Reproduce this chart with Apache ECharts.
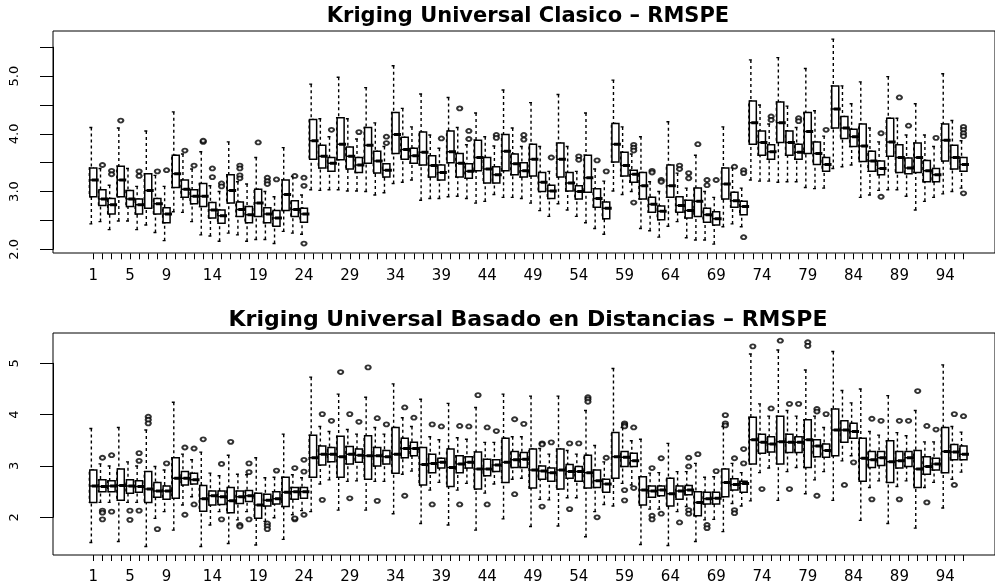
<!DOCTYPE html>
<html>
<head>
<meta charset="utf-8">
<script src="https://cdn.jsdelivr.net/npm/echarts@6/dist/echarts.min.js"></script>
<style>html,body{margin:0;padding:0;background:#fff}#c{width:995px;height:587px}</style>
</head>
<body>
<div id="c"></div>
<script>
// ---------- data ----------
const categories = ['1','2','3','4','5','6','7','8','9','10','11','12','13','14','15','16','17','18','19','20','21','22','23','24','25','26','27','28','29','30','31','32','33','34','35','36','37','38','39','40','41','42','43','44','45','46','47','48','49','50','51','52','53','54','55','56','57','58','59','60','61','62','63','64','65','66','67','68','69','70','71','72','73','74','75','76','77','78','79','80','81','82','83','84','85','86','87','88','89','90','91','92','93','94','95','96'];
const xTickLabels = ['1','5','9','14','19','24','29','34','39','44','49','54','59','64','69','74','79','84','89','94'];
const topTitle = 'Kriging Universal Clasico \u2013 RMSPE';
const bottomTitle = 'Kriging Universal Basado en Distancias \u2013 RMSPE';

// Panel 1: Kriging Universal Clasico
const topLow  = [2.44,2.48,2.34,2.49,2.49,2.34,2.42,2.29,2.15,2.65,2.64,2.48,2.25,2.23,2.14,2.28,2.25,2.14,2.17,2.17,2.10,2.31,2.28,2.26,3.03,3.02,3.03,3.03,3.01,3.01,3.00,2.94,2.98,3.14,3.16,3.20,2.85,2.88,2.88,2.91,2.92,2.88,2.80,2.83,2.95,2.90,2.90,2.88,2.80,2.67,2.57,2.79,2.68,2.57,2.46,2.36,2.26,3.01,2.95,3.00,2.36,2.32,2.21,2.40,2.48,2.20,2.16,2.16,2.09,2.39,2.44,2.39,3.20,3.18,3.18,3.16,3.17,3.17,3.07,3.05,3.06,3.40,3.43,3.46,2.90,2.94,3.02,3.03,3.03,2.92,2.68,2.83,2.90,2.96,3.00,3.06];
const topQ1   = [2.91,2.76,2.61,2.91,2.74,2.61,2.71,2.61,2.46,3.07,2.90,2.79,2.74,2.54,2.45,2.80,2.57,2.46,2.57,2.46,2.40,2.67,2.57,2.47,3.56,3.41,3.35,3.55,3.39,3.33,3.49,3.32,3.25,3.66,3.56,3.49,3.46,3.25,3.20,3.50,3.25,3.23,3.36,3.15,3.15,3.36,3.29,3.25,3.27,3.00,2.88,3.25,3.01,2.87,2.99,2.73,2.53,3.51,3.27,3.16,2.87,2.64,2.51,2.90,2.64,2.54,2.57,2.47,2.42,2.87,2.73,2.60,3.82,3.63,3.56,3.85,3.63,3.56,3.66,3.47,3.35,4.10,3.92,3.78,3.52,3.35,3.29,3.61,3.33,3.31,3.33,3.17,3.17,3.53,3.39,3.35];
const topMed  = [3.20,2.87,2.77,3.20,2.87,2.77,3.02,2.79,2.61,3.31,3.04,2.92,2.92,2.68,2.58,3.02,2.69,2.60,2.80,2.61,2.54,2.95,2.69,2.61,3.88,3.61,3.49,3.82,3.61,3.46,3.80,3.53,3.37,3.99,3.73,3.62,3.68,3.45,3.33,3.69,3.49,3.35,3.59,3.39,3.29,3.70,3.48,3.36,3.56,3.16,3.01,3.56,3.15,3.00,3.24,2.88,2.71,3.82,3.45,3.30,3.10,2.78,2.66,3.10,2.76,2.67,2.83,2.60,2.53,3.13,2.84,2.74,4.19,3.85,3.69,4.19,3.85,3.68,4.04,3.66,3.47,4.43,4.10,3.95,3.79,3.53,3.40,3.86,3.59,3.41,3.59,3.36,3.29,3.89,3.59,3.47];
const topQ3   = [3.41,3.03,2.88,3.44,3.02,2.87,3.31,2.88,2.72,3.63,3.20,3.03,3.14,2.81,2.68,3.29,2.82,2.74,3.04,2.72,2.67,3.20,2.84,2.71,4.25,3.80,3.59,4.28,3.77,3.59,4.11,3.70,3.48,4.37,3.94,3.75,4.03,3.62,3.46,4.05,3.66,3.48,3.89,3.59,3.43,3.99,3.65,3.50,3.82,3.33,3.11,3.84,3.33,3.10,3.63,3.05,2.82,4.18,3.68,3.37,3.33,2.90,2.75,3.46,2.91,2.85,3.06,2.71,2.65,3.41,2.99,2.83,4.57,4.05,3.81,4.55,4.05,3.82,4.37,3.86,3.59,4.83,4.30,4.08,4.17,3.70,3.53,4.27,3.81,3.58,3.84,3.54,3.40,4.17,3.80,3.59];
const topHigh = [4.11,3.40,3.11,4.10,3.40,3.09,4.05,3.28,3.09,4.38,3.65,3.39,3.69,3.10,3.00,3.86,3.17,3.13,3.59,3.00,2.91,3.76,3.26,2.94,4.86,4.26,3.95,4.98,4.26,3.91,4.80,4.19,3.78,5.18,4.44,4.12,4.69,3.98,3.75,4.63,4.11,3.81,4.36,3.95,3.79,4.76,4.10,3.78,4.54,3.78,3.35,4.68,3.78,3.35,4.36,3.39,3.18,4.93,4.12,3.65,3.95,3.17,3.00,4.21,3.32,3.06,3.63,3.00,2.90,4.12,3.41,3.06,5.28,4.50,4.17,5.32,4.48,4.11,5.13,4.40,3.96,5.64,4.83,4.52,4.90,4.10,3.86,4.99,4.27,3.98,4.52,3.98,3.78,5.04,4.23,3.88];
const topOutliers = [[2,3.46],[3,3.36],[3,3.30],[4,4.23],[6,3.35],[6,3.27],[8,3.35],[9,3.37],[11,3.71],[12,3.45],[13,3.86],[13,3.88],[14,3.40],[14,3.25],[15,3.14],[15,3.09],[17,3.45],[17,3.40],[17,3.28],[17,3.23],[19,3.85],[20,3.24],[20,3.18],[20,3.13],[21,3.21],[23,3.27],[24,3.24],[24,3.10],[24,2.10],[27,4.07],[30,4.03],[33,3.95],[33,3.84],[39,3.92],[41,4.44],[42,4.05],[42,3.91],[45,3.98],[45,3.93],[48,3.98],[48,3.90],[51,3.59],[54,3.61],[54,3.55],[56,3.54],[57,3.35],[60,3.81],[60,3.76],[60,3.71],[60,2.81],[62,3.36],[62,3.33],[63,3.20],[63,3.17],[65,3.45],[65,3.39],[66,3.32],[66,3.23],[67,3.82],[68,3.20],[68,3.11],[69,3.20],[71,3.43],[72,3.37],[72,3.32],[72,2.21],[75,4.30],[75,4.24],[78,4.27],[78,4.22],[81,4.07],[87,4.01],[87,2.91],[89,4.63],[90,4.14],[93,3.93],[96,4.12],[96,4.07],[96,4.01],[96,3.96],[96,2.97]];

// Panel 2: Kriging Universal Basado en Distancias
const botLow  = [1.51,2.29,2.29,1.53,2.29,2.29,1.43,1.98,2.11,1.75,2.24,2.40,1.43,1.85,2.11,1.49,1.95,2.11,1.46,1.92,1.99,1.57,2.05,2.13,2.11,2.65,2.73,2.14,2.70,2.71,2.14,2.70,2.70,2.07,2.84,2.90,1.88,2.53,2.68,1.85,2.53,2.66,1.75,2.47,2.65,1.97,2.74,2.76,1.82,2.35,2.34,1.83,2.38,2.38,1.62,2.11,2.25,2.22,2.66,2.63,1.47,2.16,2.16,1.45,2.11,2.21,1.53,1.95,1.96,1.72,2.27,2.22,2.32,2.87,2.96,2.33,2.89,2.97,2.46,2.73,2.89,2.33,3.10,3.20,1.94,2.58,2.71,1.88,2.60,2.71,1.79,2.58,2.68,2.18,2.74,2.88];
const botQ1   = [2.29,2.50,2.50,2.33,2.47,2.49,2.29,2.39,2.35,2.37,2.63,2.65,2.12,2.24,2.25,2.09,2.27,2.31,1.98,2.22,2.26,2.21,2.35,2.37,2.78,3.02,3.08,2.78,3.04,3.07,2.74,3.00,3.04,2.86,3.16,3.20,2.63,2.87,2.96,2.60,2.87,2.96,2.55,2.81,2.89,2.68,2.97,2.97,2.57,2.74,2.70,2.55,2.76,2.70,2.57,2.58,2.49,2.76,2.99,2.99,2.24,2.39,2.42,2.22,2.35,2.44,2.03,2.26,2.26,2.40,2.53,2.49,3.04,3.25,3.27,3.04,3.26,3.26,2.97,3.18,3.17,3.20,3.46,3.54,2.70,2.97,3.01,2.68,2.96,2.99,2.58,2.84,2.92,2.87,3.12,3.12];
const botMed  = [2.61,2.60,2.61,2.62,2.61,2.60,2.55,2.51,2.51,2.76,2.76,2.73,2.36,2.42,2.40,2.32,2.40,2.42,2.24,2.33,2.36,2.49,2.50,2.50,3.16,3.23,3.23,3.18,3.23,3.21,3.20,3.20,3.18,3.23,3.34,3.34,3.03,3.05,3.07,2.97,3.04,3.07,2.94,2.94,3.02,3.07,3.12,3.13,2.92,2.90,2.87,2.92,2.89,2.89,2.87,2.71,2.65,3.18,3.17,3.10,2.53,2.51,2.53,2.46,2.51,2.53,2.29,2.36,2.37,2.68,2.64,2.66,3.51,3.46,3.43,3.47,3.46,3.46,3.51,3.39,3.30,3.70,3.70,3.67,3.15,3.12,3.16,3.08,3.10,3.16,2.94,2.99,3.04,3.28,3.27,3.23];
const botQ3   = [2.92,2.73,2.71,2.94,2.73,2.71,2.89,2.68,2.61,3.16,2.89,2.86,2.62,2.51,2.51,2.58,2.51,2.52,2.47,2.45,2.50,2.78,2.58,2.58,3.60,3.39,3.36,3.58,3.38,3.33,3.59,3.36,3.30,3.75,3.54,3.46,3.36,3.23,3.15,3.33,3.20,3.18,3.27,3.13,3.12,3.54,3.28,3.26,3.33,3.00,2.96,3.33,3.03,2.99,3.21,2.92,2.74,3.65,3.28,3.25,2.79,2.61,2.61,2.76,2.61,2.62,2.50,2.49,2.49,2.94,2.75,2.70,3.95,3.62,3.57,3.97,3.62,3.57,3.90,3.51,3.43,4.11,3.88,3.83,3.54,3.28,3.28,3.49,3.28,3.28,3.30,3.18,3.15,3.75,3.42,3.39];
const botHigh = [3.73,3.04,3.00,3.75,3.08,3.00,3.70,2.99,2.92,4.24,3.23,3.12,3.27,2.86,2.81,3.21,2.84,2.83,3.16,2.77,2.78,3.62,2.83,2.77,4.73,3.77,3.67,4.40,3.71,3.62,4.34,3.75,3.62,4.60,3.94,3.77,4.30,3.57,3.51,4.22,3.55,3.52,4.14,3.46,3.46,4.40,3.57,3.57,4.36,3.34,3.23,4.36,3.30,3.23,4.08,3.40,3.08,4.90,3.75,3.49,3.52,2.86,2.87,3.44,2.89,2.89,3.05,2.78,2.79,3.77,3.05,2.87,5.18,4.21,3.97,5.26,4.08,3.97,4.87,3.97,3.75,5.23,4.47,4.23,4.50,3.67,3.60,4.37,3.65,3.59,4.08,3.47,3.47,4.97,3.77,3.66];
const botOutliers = [[2,3.16],[2,2.13],[2,2.09],[2,1.96],[3,3.21],[3,2.11],[5,2.13],[5,1.95],[6,3.25],[6,3.10],[6,2.13],[7,3.96],[7,3.90],[7,3.83],[8,1.77],[9,3.05],[11,3.36],[11,2.05],[12,3.34],[12,2.25],[13,3.52],[15,3.04],[15,1.96],[16,3.47],[17,1.85],[17,1.82],[18,3.05],[18,2.88],[18,1.96],[20,1.88],[20,1.83],[20,1.77],[21,2.91],[23,2.96],[23,1.96],[23,1.98],[24,3.12],[24,2.89],[24,2.05],[26,4.01],[26,2.34],[27,3.88],[28,4.83],[29,4.01],[29,2.37],[30,3.86],[31,4.92],[32,3.93],[32,2.32],[33,3.81],[35,4.14],[35,2.42],[36,3.94],[38,3.81],[38,2.25],[39,3.77],[41,3.78],[41,2.25],[42,3.77],[43,4.38],[44,3.75],[44,2.25],[45,3.68],[47,3.91],[47,2.45],[48,3.82],[50,3.44],[50,3.42],[50,2.21],[51,3.46],[53,3.44],[53,2.16],[54,3.44],[55,4.34],[55,4.30],[55,4.25],[56,2.00],[57,3.16],[59,3.83],[59,3.80],[59,3.77],[59,2.53],[59,2.33],[60,3.75],[60,2.57],[62,2.96],[62,2.03],[62,1.96],[63,3.15],[63,2.07],[65,1.90],[66,3.16],[66,2.99],[66,2.14],[66,2.07],[67,3.23],[68,1.85],[68,1.79],[69,2.90],[70,3.99],[70,3.83],[70,3.79],[71,3.15],[71,2.14],[71,2.08],[72,3.33],[72,3.05],[73,5.33],[74,2.55],[75,4.12],[76,5.44],[77,4.21],[77,2.55],[78,4.21],[79,5.41],[79,5.34],[80,4.11],[80,4.06],[80,2.42],[81,4.01],[83,2.63],[84,3.07],[86,3.92],[86,2.35],[87,3.88],[89,3.88],[89,2.35],[90,3.88],[91,4.46],[92,3.78],[92,2.29],[93,3.71],[95,4.01],[95,2.63],[96,3.97]];

// ---------- build ----------
const FONT = 'DejaVu Sans';
function whiskerData(lo, q1, md, q3, hi) { return lo.map((v, i) => [v, q1[i], md[i], q3[i], hi[i]]); }
function boxData(q1, md, q3) { return q1.map((v, i) => [v, v, md[i], q3[i], q3[i]]); }
function medData(md) { return md.map(v => [v, v, v, v, v]); }
function outData(o) { return o.map(p => [String(p[0]), p[1]]); }

const panels = [
  {title: topTitle, lo: topLow, q1: topQ1, md: topMed, q3: topQ3, hi: topHigh, out: topOutliers,
   frame: {left: 53, top: 31, width: 950, height: 222},
   data: {left: 93.3, top: 47.2, width: 870.2, height: 202.1},
   yMin: 2, yMax: 5.5, yInt: 0.5, yFmt: v => (Math.abs(v - Math.round(v)) < 1e-9 ? v.toFixed(1) : ''),
   xOffset: 4, titleTop: 6, titleSize: 21},
  {title: bottomTitle, lo: botLow, q1: botQ1, md: botMed, q3: botQ3, hi: botHigh, out: botOutliers,
   frame: {left: 53, top: 333, width: 950, height: 222},
   data: {left: 93.3, top: 363.3, width: 870.2, height: 154},
   yMin: 2, yMax: 5, yInt: 1, yFmt: v => String(v),
   xOffset: 37.7, titleTop: 309, titleSize: 22}
];

const grid = [], xAxis = [], yAxis = [], series = [], title = [];
panels.forEach((p, k) => {
  const gf = grid.length;
  grid.push(Object.assign({show: true, borderColor: '#000', borderWidth: 1, backgroundColor: 'transparent'}, p.frame));
  xAxis.push({gridIndex: gf, type: 'value', show: false, min: 0, max: 1});
  yAxis.push({gridIndex: gf, type: 'value', show: false, min: 0, max: 1});
  const gd = grid.length;
  grid.push(Object.assign({show: false}, p.data));
  const xi = xAxis.length, yi = yAxis.length;
  xAxis.push({
    gridIndex: gd, type: 'category', data: categories, boundaryGap: false, offset: p.xOffset,
    axisLine: {show: false},
    axisTick: {show: true, interval: 0, length: 6, lineStyle: {color: '#000', width: 1}},
    axisLabel: {interval: 0, margin: 15, color: '#000', fontFamily: FONT, fontSize: 15,
      formatter: v => (xTickLabels.indexOf(v) >= 0 ? v : '')},
    splitLine: {show: false}
  });
  yAxis.push({
    gridIndex: gd, type: 'value', min: p.yMin, max: p.yMax, interval: p.yInt, offset: 40.3,
    axisLine: {show: true, lineStyle: {color: '#000', width: 1}},
    axisTick: {show: true, length: 13, lineStyle: {color: '#000', width: 1}},
    axisLabel: {rotate: 90, margin: 32, color: '#000', fontFamily: FONT, fontSize: 13, formatter: p.yFmt},
    splitLine: {show: false}
  });
  title.push({text: p.title, left: 528, top: p.titleTop, textAlign: 'center', padding: 0,
    textStyle: {fontFamily: FONT, fontWeight: 'bold', fontSize: p.titleSize, color: '#000'}});
  const common = {xAxisIndex: xi, yAxisIndex: yi, emphasis: {disabled: true}, silent: true, animation: false};
  series.push(Object.assign({type: 'boxplot', name: 'whisker' + k, data: whiskerData(p.lo, p.q1, p.md, p.q3, p.hi),
    boxWidth: [4, 4], itemStyle: {color: '#fff', borderColor: '#000', borderWidth: 1.4, borderType: [3, 3]}, z: 2}, common));
  series.push(Object.assign({type: 'boxplot', name: 'box' + k, data: boxData(p.q1, p.md, p.q3),
    boxWidth: [7, 7], itemStyle: {color: '#fff', borderColor: '#000', borderWidth: 1.5}, z: 3}, common));
  series.push(Object.assign({type: 'boxplot', name: 'median' + k, data: medData(p.md),
    boxWidth: [7, 7], itemStyle: {color: '#000', borderColor: '#000', borderWidth: 3}, z: 4}, common));
  series.push(Object.assign({type: 'scatter', name: 'outliers' + k, data: outData(p.out), clip: false,
    symbol: 'emptyCircle', symbolSize: [5, 4], itemStyle: {color: '#000', borderColor: '#000', borderWidth: 1.1}, z: 5}, common));
});

const chart = echarts.init(document.getElementById('c'), null, {renderer: 'canvas'});
chart.setOption({animation: false, backgroundColor: '#fff', title, grid, xAxis, yAxis, series, tooltip: {show: false}});
</script>
</body>
</html>
